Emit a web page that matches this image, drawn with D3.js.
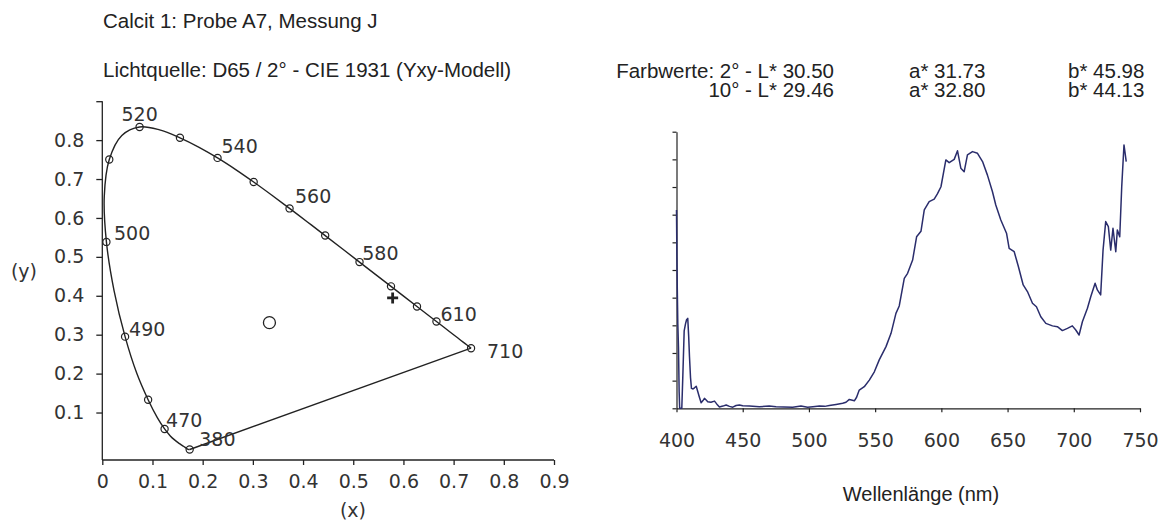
<!DOCTYPE html>
<html>
<head>
<meta charset="utf-8">
<script src="https://cdn.jsdelivr.net/npm/d3@7"></script>
<style>
  html, body { margin: 0; padding: 0; background: #fff; }
  svg { display: block; }
  .hdr { font-family: "Liberation Sans", Arial, sans-serif; fill: #222; }
  .tick text, .lbl { font-family: "DejaVu Sans", Verdana, sans-serif; font-size: 19px; fill: #333; }
</style>
</head>
<body>
<svg id="chart" width="1159" height="522"></svg>
<script>
// ---------- DATA ----------
const titleText = "Calcit 1: Probe A7, Messung J";
const lightText = "Lichtquelle: D65 / 2\u00B0 - CIE 1931 (Yxy-Modell)";
const colorRows = [
  ["Farbwerte: 2\u00B0 - L* 30.50", "a* 31.73", "b* 45.98"],
  ["10\u00B0 - L* 29.46", "a* 32.80", "b* 44.13"]
];

// CIE 1931 2° spectral locus (wavelength nm, x, y)
const locusNm = [380,385,390,395,400,405,410,415,420,425,430,435,440,445,450,455,460,465,470,475,480,485,490,495,500,505,510,515,520,525,530,535,540,545,550,555,560,565,570,575,580,585,590,595,600,605,610,615,620,625,630,635,640,645,650,655,660,665,670,675,680,690,700,710];
const locusX = [0.1741,0.1740,0.1738,0.1736,0.1733,0.1730,0.1726,0.1721,0.1714,0.1703,0.1689,0.1669,0.1644,0.1611,0.1566,0.1510,0.1440,0.1355,0.1241,0.1096,0.0913,0.0687,0.0454,0.0235,0.0082,0.0039,0.0139,0.0389,0.0743,0.1142,0.1547,0.1929,0.2296,0.2658,0.3016,0.3373,0.3731,0.4087,0.4441,0.4788,0.5125,0.5448,0.5752,0.6029,0.6270,0.6482,0.6658,0.6801,0.6915,0.7006,0.7079,0.7140,0.7190,0.7230,0.7260,0.7283,0.7300,0.7311,0.7320,0.7327,0.7334,0.7344,0.7347,0.7347];
const locusY = [0.0050,0.0050,0.0049,0.0049,0.0048,0.0048,0.0048,0.0048,0.0051,0.0058,0.0069,0.0086,0.0109,0.0138,0.0177,0.0227,0.0297,0.0399,0.0578,0.0868,0.1327,0.2007,0.2950,0.4127,0.5384,0.6548,0.7502,0.8120,0.8338,0.8262,0.8059,0.7816,0.7543,0.7243,0.6923,0.6589,0.6245,0.5896,0.5547,0.5202,0.4866,0.4544,0.4242,0.3965,0.3725,0.3514,0.3340,0.3197,0.3083,0.2993,0.2920,0.2859,0.2809,0.2770,0.2740,0.2717,0.2700,0.2689,0.2680,0.2673,0.2666,0.2656,0.2653,0.2653];
const markerNm = [380,470,480,490,500,510,520,530,540,550,560,570,580,590,600,610,710];
const labelNm = [380,470,490,500,520,540,560,580,610,710];
const whitePoint = [0.333, 0.331];
const samplePoint = [0.5785, 0.3946];
const xyTicks = [0,0.1,0.2,0.3,0.4,0.5,0.6,0.7,0.8,0.9];
const yTicks = [0.1,0.2,0.3,0.4,0.5,0.6,0.7,0.8,0.9];

// Reflection spectrum (nm, relative value)
const specNm = [400.0,400.3,400.6,401.0,401.5,402.0,402.4,404.0,404.8,405.8,406.8,407.6,408.5,409.2,409.8,410.6,411.3,412.5,413.6,414.9,416.1,417.3,418.6,420.0,421.1,422.4,423.6,426.0,428.7,430.5,432.4,435.0,437.5,440.0,442.5,445.0,447.5,450.0,455,462.6,470,475.2,481,487.7,494,499,503,507.9,512,515.4,520.5,525.5,528,530.5,534.3,536,538,541.8,545.6,549.4,553.1,558.2,562,565.7,568.2,572,574.5,578.3,581.3,584.6,587.1,590.8,594.6,597,599.7,603.4,605.9,609.7,612.2,614.7,617.2,619.7,623.5,627.3,631.1,634.8,638.6,641.1,644.9,649.2,651.2,655,658.2,661.8,665,668.8,671.8,675.1,678.9,683.9,687.6,691.4,695.2,698.9,701.5,704,706.5,710.3,712.8,716.1,717.8,720.3,722.1,724.1,726.1,727.9,729.6,731.7,732.9,734.7,736.2,737.9,738.6,739.6];
const specVal = [7.17,5.5,4.3,3.05,2.2,0.6,0,0,1.2,2.8,3.05,3.2,3.25,2.6,1.87,1.1,0.72,0.7,0.74,0.8,0.6,0.4,0.2,0.28,0.36,0.3,0.24,0.22,0.26,0.15,0.05,0.08,0.12,0.07,0.04,0.1,0.12,0.09,0.08,0.06,0.08,0.06,0.05,0.04,0.08,0.04,0.06,0.08,0.07,0.1,0.14,0.18,0.22,0.32,0.27,0.4,0.66,0.78,1.02,1.32,1.75,2.23,2.71,3.43,3.7,4.7,4.88,5.36,6.2,6.4,7.17,7.47,7.56,7.75,8.01,8.98,8.88,9.0,9.31,8.68,8.55,9.16,9.28,9.22,8.92,8.43,7.83,7.35,6.81,6.33,5.78,5.66,5.12,4.46,4.22,3.8,3.67,3.31,3.07,2.98,2.95,2.81,2.89,2.98,2.83,2.65,3.13,3.62,4.03,4.52,4.28,4.1,5.72,6.75,6.57,5.72,6.51,5.66,6.45,6.2,8.01,9.52,9.28,8.92];
const nmTicks = [400,450,500,550,600,650,700,750];
const specYTicks = [0,1,2,3,4,5,6,7,8,9,10];

// ---------- LAYOUT ----------
const svg = d3.select("#chart");
const ink = "#222";

// headers
svg.append("text").attr("class","hdr").attr("font-size",20.5).attr("x",103).attr("y",28).text(titleText);
svg.append("text").attr("class","hdr").attr("font-size",20.5).attr("x",103).attr("y",77).text(lightText);
const rowY = [78, 97];
colorRows.forEach((r, i) => {
  svg.append("text").attr("class","hdr").attr("font-size",20.5).attr("x",834).attr("y",rowY[i]).attr("text-anchor","end").text(r[0]);
  svg.append("text").attr("class","hdr").attr("font-size",20.5).attr("x",909).attr("y",rowY[i]).text(r[1]);
  svg.append("text").attr("class","hdr").attr("font-size",20.5).attr("x",1068).attr("y",rowY[i]).text(r[2]);
});

// ---------- LEFT: chromaticity diagram ----------
const x = d3.scaleLinear().domain([0, 0.9]).range([102.3, 554]);
const y = d3.scaleLinear().domain([-0.022, 0.9]).range([460, 101.2]);

const gL = svg.append("g");
const xAx = gL.append("g").attr("transform", `translate(0,${y(-0.022)})`)
  .call(d3.axisBottom(x).tickValues(xyTicks).tickSize(5).tickPadding(10)
    .tickFormat(d => d === 0 ? "0" : d3.format(".1f")(d)));
const yAx = gL.append("g").attr("transform", `translate(${x(0)},0)`)
  .call(d3.axisLeft(y).tickValues(yTicks).tickSize(6).tickPadding(12)
    .tickFormat(d => d >= 0.85 ? "" : d3.format(".1f")(d)));
[xAx, yAx].forEach(a => {
  a.select(".domain").attr("stroke", ink).attr("stroke-width", 1.3);
  a.selectAll(".tick line").attr("stroke", ink).attr("stroke-width", 1.3);
});
yAx.select(".domain").attr("d", `M0,${y(0.9)}V${y(-0.022)}`);
xAx.select(".domain").attr("d", `M${x(0)},0H${x(0.9)}`);

gL.append("text").attr("class","lbl").attr("x", 353).attr("y", 517).attr("text-anchor","middle").text("(x)");
gL.append("text").attr("class","lbl").attr("x", 24).attr("y", 278).attr("text-anchor","middle").text("(y)");

const locus = locusNm.map((nm, i) => ({nm, x: locusX[i], y: locusY[i]}));
const byNm = new Map(locus.map(d => [d.nm, d]));

gL.append("path").datum(locus)
  .attr("d", d3.line().x(d => x(d.x)).y(d => y(d.y)).curve(d3.curveCatmullRom.alpha(0.5)))
  .attr("fill","none").attr("stroke", ink).attr("stroke-width", 1.4);
// line of purples
const pEnds = [byNm.get(710), byNm.get(380)];
gL.append("path").datum(pEnds)
  .attr("d", d3.line().x(d => x(d.x)).y(d => y(d.y)))
  .attr("fill","none").attr("stroke", ink).attr("stroke-width", 1.4);

gL.selectAll("circle.m").data(markerNm.map(n => byNm.get(n))).join("circle")
  .attr("class","m").attr("cx", d => x(d.x)).attr("cy", d => y(d.y)).attr("r", 3.6)
  .attr("fill","none").attr("stroke", ink).attr("stroke-width", 1.2);

const labelOffset = {380:[9.6,-3.6,"start"],470:[1.5,-2,"start"],490:[4,-1,"start"],500:[7.6,-1.8,"start"],
  520:[0,-5.5,"middle"],540:[4,-4.5,"start"],560:[5.4,-5,"start"],580:[2.7,-2,"start"],610:[4,-0.6,"start"],710:[16,10,"start"]};
gL.selectAll("text.wl").data(labelNm.map(n => byNm.get(n))).join("text")
  .attr("class","wl lbl")
  .attr("x", d => x(d.x) + labelOffset[d.nm][0])
  .attr("y", d => y(d.y) + labelOffset[d.nm][1])
  .attr("text-anchor", d => labelOffset[d.nm][2])
  .text(d => d.nm);

// white point
gL.append("circle").attr("cx", x(whitePoint[0])).attr("cy", y(whitePoint[1])).attr("r", 6)
  .attr("fill","none").attr("stroke", ink).attr("stroke-width", 1.3);
// sample point (+)
const sx = x(samplePoint[0]), sy = y(samplePoint[1]);
gL.append("path").attr("d", `M${sx-5.5},${sy}H${sx+5.5}M${sx},${sy-5.5}V${sy+5.5}`)
  .attr("stroke", ink).attr("stroke-width", 2.8).attr("fill","none");

// ---------- RIGHT: spectrum ----------
const xs = d3.scaleLinear().domain([400, 750]).range([676.5, 1140]);
const ys = d3.scaleLinear().domain([0, 10]).range([408.3, 131.7]);
const gR = svg.append("g");
const xsAx = gR.append("g").attr("transform", `translate(0,${ys(0)})`)
  .call(d3.axisBottom(xs).tickValues(nmTicks).tickSize(4).tickPadding(21).tickSizeOuter(0));
const ysAx = gR.append("g").attr("transform", `translate(${xs(400)},0)`)
  .call(d3.axisLeft(ys).tickValues(specYTicks).tickSize(4).tickFormat("").tickSizeOuter(0));
[xsAx, ysAx].forEach(a => {
  a.select(".domain").attr("stroke", ink).attr("stroke-width", 1.2);
  a.selectAll(".tick line").attr("stroke", ink).attr("stroke-width", 1.2);
});
gR.append("text").attr("class","hdr").attr("font-size",20).attr("x", 921).attr("y", 501).attr("text-anchor","middle").text("Wellenl\u00E4nge (nm)");

const spec = specNm.map((nm, i) => ({nm, v: specVal[i]}));
gR.append("path").datum(spec)
  .attr("d", d3.line().x(d => xs(d.nm)).y(d => ys(d.v)))
  .attr("fill","none").attr("stroke", "#2a2d6c").attr("stroke-width", 1.5).attr("stroke-linejoin","round");
</script>
</body>
</html>
